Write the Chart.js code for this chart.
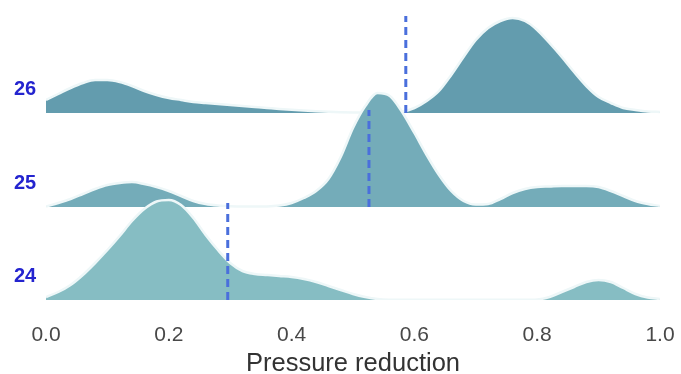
<!DOCTYPE html>
<html>
<head>
<meta charset="utf-8">
<script src="https://cdn.jsdelivr.net/npm/chart.js@4"></script>
<style>
  html, body { margin: 0; padding: 0; background: #fff; }
  #wrap { width: 681px; height: 374px; position: relative; }
</style>
</head>
<body>
<div id="wrap"><canvas id="c"></canvas></div>
<script>
// pressure reduction grid (0 .. 1, step 0.02)
const xs = Array.from({ length: 51 }, (_, i) => +(i * 0.02).toFixed(2));

// estimated density curves (same unit as rowBase)
const dens26 = [13, 19, 25, 30, 33, 33, 31, 27, 22, 18, 15, 13, 11, 10, 9, 8, 7, 6, 5, 4, 3.2, 2.5, 1.8, 1.2, 0.8, 0.5, 0.4, 0.5, 1, 1.5,
  5, 12, 22, 38, 56, 73, 85, 92, 95, 92, 83, 70, 56, 41, 27, 16, 10, 5, 3, 1.5, 1];
const dens25 = [0.5, 4, 8, 13, 18, 22, 24, 25, 23, 20, 16, 11, 6, 3, 1.5, 0.8, 0.5, 0.5, 0.6, 1.5, 4, 9, 16, 28, 50, 79, 101, 114, 111, 95,
  74, 52, 32, 16, 6, 2.5, 3, 8, 14, 18, 20, 20.5, 21, 21, 21, 20, 16, 11, 6, 3, 1];
const dens24 = [3, 8, 15, 25, 37, 50, 64, 79, 91, 98.5, 100, 95, 82, 65, 50, 37, 29, 26, 25, 24, 23, 21, 18, 14, 10, 6, 3, 1, 0.3, 0.2,
  0.2, 0.2, 0.2, 0.2, 0.2, 0.2, 0.2, 0.2, 0.2, 0.2, 0.5, 3, 8, 13, 18, 20, 18, 12, 6, 2.5, 1];

const groups = ['24', '25', '26'];
const medians = [0.296, 0.526, 0.586];
const rowBase = [0, 93, 187];
const medianHeight = 97;

const fills = ['#86bdc3', '#74acb9', '#639cae'];
const curves = [dens24, dens25, dens26];
const font = '"Liberation Sans", Arial, sans-serif';

const datasets = [];
groups.forEach((g, i) => {
  datasets.push({
    label: g,
    data: xs.map((x, j) => ({ x, y: rowBase[i] + curves[i][j] })),
    backgroundColor: fills[i],
    borderColor: '#eef7f8',
    borderWidth: 2.5,
    fill: { value: rowBase[i] },
    pointRadius: 0,
    cubicInterpolationMode: 'monotone',
    order: i + 1,
  });
  datasets.push({
    label: g + ' median',
    data: [{ x: medians[i], y: rowBase[i] }, { x: medians[i], y: rowBase[i] + medianHeight }],
    borderColor: '#4a6fdc',
    borderWidth: 3,
    borderDash: [8, 5],
    pointRadius: 0,
    fill: false,
    order: 0,
  });
});

// group names on the left of each ridge
const rowLabels = {
  id: 'rowLabels',
  afterDatasetsDraw(chart) {
    const { ctx, scales: { y } } = chart;
    ctx.save();
    ctx.font = 'bold 20px ' + font;
    ctx.fillStyle = '#2424cf';
    ctx.textAlign = 'center';
    ctx.textBaseline = 'middle';
    groups.forEach((g, i) => ctx.fillText(g, 25, y.getPixelForValue(rowBase[i] + 24)));
    ctx.restore();
  }
};

new Chart(document.getElementById('c'), {
  type: 'line',
  data: { datasets },
  options: {
    responsive: true,
    maintainAspectRatio: false,
    animation: false,
    layout: { padding: { left: 46, right: 21, top: 10, bottom: 0 } },
    plugins: { legend: { display: false }, tooltip: { enabled: false } },
    scales: {
      x: {
        type: 'linear', min: 0, max: 1,
        grid: { display: false, drawTicks: false },
        border: { display: false },
        ticks: { stepSize: 0.2, padding: 0, color: '#484848', font: { size: 21, family: font, lineHeight: '71px' }, callback: v => v.toFixed(1) },
        title: { display: true, text: 'Pressure reduction', color: '#333', padding: { top: -17, bottom: 0 }, font: { size: 25.5, family: font, lineHeight: '20px' } },
      },
      y: { display: false, min: 0, max: 290 },
    },
  },
  plugins: [rowLabels],
});
</script>
</body>
</html>
